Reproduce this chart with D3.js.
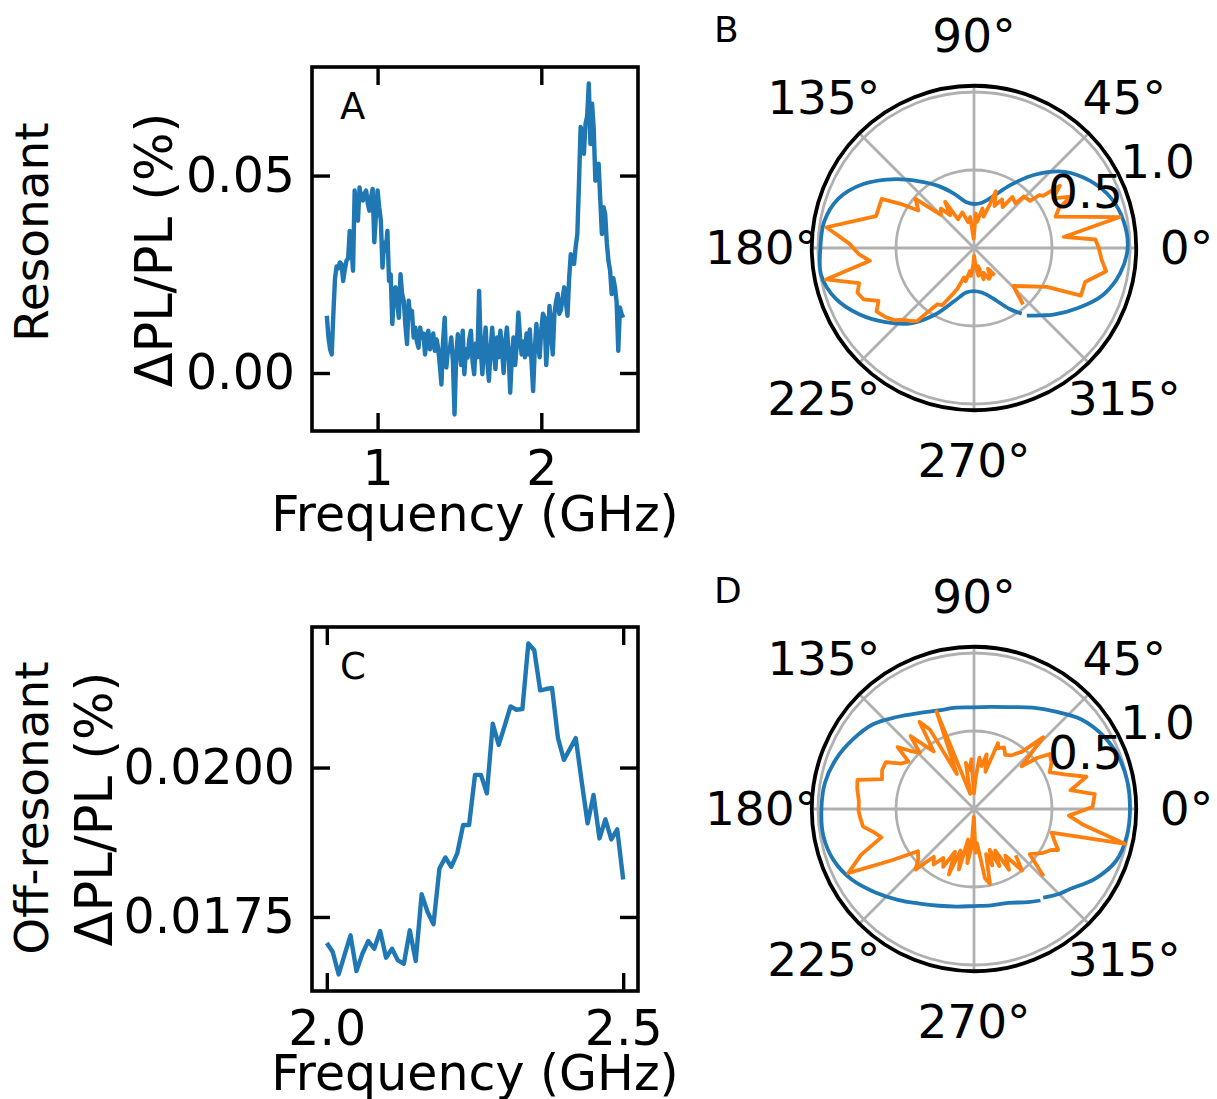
<!DOCTYPE html>
<html>
<head>
<meta charset="utf-8">
<title>Resonant / off-resonant</title>
<script src="https://d3js.org/d3.v7.min.js"></script>
<style>
  body { margin: 0; background: #fff; }
  text { font-family: "DejaVu Sans", sans-serif; fill: #000; }
</style>
</head>
<body>
<div id="fig"></div>
<script>
// ---- data ----
// panel A: resonant spectrum (frequency in GHz, dPL/PL in %)
const freqA = d3.range(69, 251).map(i => i / 100);
const dplA = [
  .0145,.0090,.0060,.0047,.0150,.0240,.0270,.0265,.0280,.0276,
  .0233,.0262,.0284,.0290,.0360,.0320,.0259,.0462,.0410,.0386,
  .0470,.0440,.0437,.0455,.0462,.0430,.0411,.0445,.0466,.0331,
  .0400,.0462,.0420,.0386,.0267,.0330,.0310,.0360,.0233,.0250,
  .0124,.0200,.0217,.0180,.0140,.0250,.0200,.0183,.0120,.0073,
  .0183,.0140,.0157,.0090,.0115,.0080,.0064,.0115,.0090,.0100,
  .0047,.0095,.0107,.0060,.0073,.0100,.0056,.0085,.0064,.0020,
  -.0029,.0080,.0140,.0014,.0060,.0056,.0090,.0030,-.0105,.0040,
  .0098,.0060,.0020,.0107,-.0003,.0060,.0039,.0085,.0107,.0030,
  -.0003,.0075,.0040,.0208,.0060,-.0003,.0070,.0115,.0030,-.0020,
  .0060,.0115,.0050,.0010,.0090,.0040,.0107,.0060,.0000,.0080,
  .0115,.0050,-.0050,.0040,.0090,.0020,.0070,.0153,.0090,.0047,
  .0080,.0040,.0100,.0047,.0110,.0030,-.0046,.0060,.0124,.0070,
  .0040,.0110,.0150,.0140,.0020,.0090,.0170,.0100,.0047,.0150,
  .0180,.0200,.0150,.0160,.0190,.0217,.0180,.0145,.0240,.0301,
  .0290,.0276,.0320,.0352,.0480,.0623,.0610,.0555,.0631,.0650,
  .0733,.0580,.0682,.0620,.0487,.0520,.0530,.0440,.0352,.0420,
  .0403,.0330,.0284,.0260,.0200,.0240,.0217,.0180,.0056,.0166,
  .0150,.0140
];
// panel C: off-resonant spectrum
const freqC = d3.range(200, 251).map(i => i / 100);
const dplC = [
  .017064,.016913,.016538,.016868,.017192,.016594,.016885,.017097,.016969,.017265,
  .016818,.016969,.016773,.016717,.017276,.016762,.017880,.017584,.017377,.018311,
  .018496,.018339,.018563,.019038,.019038,.019877,.019877,.019569,.020733,.020380,
  .020699,.021023,.020968,.020979,.022075,.021963,.021292,.021314,.021331,.020492,
  .020129,.020308,.020492,.019765,.019066,.019541,.018814,.019133,.018798,.018965,
  .018126
];
const xTicksA = [1, 2], yTicksA = [0, 0.05];
const xTicksC = [2.0, 2.5], yTicksC = [0.0175, 0.0200];

// polar panels: angle in degrees, normalised signal
const fitAng = [-52,-45,-40,-30,-20,-10,0,10,20,30,40,50,60,70,80,90,100,110,120,130,
  140,150,160,170,180,190,200,210,220,230,240,250,260,270,280,290,300,306];
const fitB = [.55,.61,.665,.77,.88,.95,.985,.975,.935,.86,.76,.615,.465,.35,.295,.282,.30,.37,.46,.56,
  .685,.82,.925,.975,.985,.995,.945,.85,.74,.63,.49,.36,.29,.276,.29,.34,.45,.52];
const fitD = [.72,.77,.80,.895,.97,.995,1.0,.999,.985,.95,.895,.815,.75,.695,.665,.652,.66,.672,.71,.77,
  .845,.895,.94,.97,.978,.981,.958,.905,.83,.76,.70,.66,.635,.622,.628,.64,.69,.725];

const measAngB = [-49,-44,-28,-24,-17,-10,-5,0,4,7,12,21,25,28,32,36,37,39,40,46,47,53,55,60,64,69,70,73,78,83,
  87,92,97,103,108,115,119,122,126,130,135,140,146,149,152,162,172,178,183,187,192,197,201,205,209,213,218,222,226,229,
  232,235,237,241,245,248,251,256,260,264,268,271,275,279,283,287,291,296,300,304,307];
const measB = [.48,.35,.53,.75,.745,.86,.82,.80,.78,.58,.955,.56,.60,.70,.60,.68,.555,.54,.47,.46,.39,.41,.32,.36,.30,.39,.30,.21,.26,.17,
  .22,.06,.20,.17,.24,.22,.21,.35,.26,.33,.30,.49,.43,.55,.67,.66,.955,.80,.74,.672,.97,.77,.80,.78,.70,.745,.72,.69,.64,.62,
  .595,.48,.43,.42,.33,.28,.20,.22,.15,.18,.10,.05,.12,.18,.12,.21,.17,.22,.21,.16,.22];

const measAngD = [-44,-39,-33,-28,-26,-21,-17,-13,-8,-4,1,7,11,16,21,26,31,36,39,42,46,50,55,60,64,68,70,73,77,80,
  84,87,90,93,96,100,104,111,116,119,122,125,128,131,134,138,141,144,148,152,157,162,166,170,176,181,185,189,193,197,
  202,207,212,217,222,226,230,234,238,242,246,249,252,256,259,263,266,269,272,275,279,282,285,288,291,294,297,300,304,308,312];
const measD = [.62,.46,.52,.56,.60,.55,.52,.995,.70,.61,.76,.78,.63,.75,.62,.54,.58,.60,.52,.41,.64,.48,.42,.40,.44,.42,.45,.25,.36,.28,
  .33,.20,.10,.32,.25,.30,.10,.67,.25,.58,.66,.45,.52,.62,.50,.56,.63,.52,.55,.64,.64,.62,.77,.76,.74,.74,.73,.72,.66,.62,
  .78,.905,.62,.45,.48,.54,.40,.44,.37,.42,.30,.45,.28,.40,.20,.35,.25,.05,.28,.22,.45,.49,.30,.38,.28,.40,.30,.45,.36,.50,.40];
const angTicks = [0, 45, 90, 135, 180, 225, 270, 315];
const rTicks = [0.5, 1.0];

// ---- figure ----
const W = 1217, H = 1099;
const FS = 49;            // tick / axis label font size
const PFS = 47;           // polar label font size
const blue = "#1f77b4", orange = "#ff7f0e";

const svg = d3.select("#fig").append("svg")
  .attr("width", W).attr("height", H);
svg.append("rect").attr("width", W).attr("height", H).attr("fill", "#fff");

// matplotlib style 5% margins
function padded(vals) {
  const [lo, hi] = d3.extent(vals);
  const m = (hi - lo) * 0.05;
  return [lo - m, hi + m];
}

function linePanel(box, xs, ys, xTicks, yTicks, xFmt, yFmt, letter) {
  const x = d3.scaleLinear().domain(padded(xs)).range([box.left, box.right]);
  const y = d3.scaleLinear().domain(padded(ys)).range([box.bottom, box.top]);
  const g = svg.append("g");

  const tick = 18;
  const styleAxis = sel => {
    sel.select(".domain").remove();
    sel.selectAll(".tick line").attr("stroke", "#000").attr("stroke-width", 3.4);
    sel.selectAll(".tick text").style("font-size", FS + "px").attr("fill", "#000");
  };
  g.append("g").attr("transform", `translate(0,${box.bottom})`)
    .call(d3.axisBottom(x).tickValues(xTicks).tickFormat(xFmt).tickSizeInner(-tick).tickSizeOuter(0).tickPadding(19))
    .call(styleAxis);
  g.append("g").attr("transform", `translate(0,${box.top})`)
    .call(d3.axisTop(x).tickValues(xTicks).tickFormat(() => "").tickSizeInner(-tick).tickSizeOuter(0))
    .call(styleAxis);
  g.append("g").attr("transform", `translate(${box.left},0)`)
    .call(d3.axisLeft(y).tickValues(yTicks).tickFormat(yFmt).tickSizeInner(-tick).tickSizeOuter(0).tickPadding(17))
    .call(styleAxis);
  g.append("g").attr("transform", `translate(${box.right},0)`)
    .call(d3.axisRight(y).tickValues(yTicks).tickFormat(() => "").tickSizeInner(-tick).tickSizeOuter(0))
    .call(styleAxis);

  g.append("path")
    .datum(d3.zip(xs, ys))
    .attr("fill", "none")
    .attr("stroke", blue)
    .attr("stroke-width", 4.4)
    .attr("stroke-linejoin", "round")
    .attr("d", d3.line().x(d => x(d[0])).y(d => y(d[1])));

  g.append("rect")
    .attr("x", box.left).attr("y", box.top)
    .attr("width", box.right - box.left).attr("height", box.bottom - box.top)
    .attr("fill", "none").attr("stroke", "#000").attr("stroke-width", 3.6);

  g.append("text").attr("x", box.left + 28).attr("y", box.top + 52)
    .style("font-size", "37px").text(letter);

  g.append("text")
    .attr("x", (box.left + box.right) / 2).attr("y", box.labelY)
    .attr("text-anchor", "middle").style("font-size", FS + "px")
    .text("Frequency (GHz)");
}

function vLabel(x, y, txt, fs) {
  svg.append("text")
    .attr("transform", `translate(${x},${y}) rotate(-90)`)
    .attr("text-anchor", "middle").attr("dy", "0.35em")
    .style("font-size", fs + "px").text(txt);
}

linePanel({ left: 312, right: 638, top: 67, bottom: 431, labelY: 531 },
  freqA, dplA, xTicksA, yTicksA, d3.format("d"), d3.format(".2f"), "A");
linePanel({ left: 312, right: 638, top: 627, bottom: 991, labelY: 1090 },
  freqC, dplC, xTicksC, yTicksC, d3.format(".1f"), d3.format(".4f"), "C");

vLabel(154, 250, "ΔPL/PL (%)", 51);
vLabel(32, 232, "Resonant", 47);
vLabel(94, 809, "ΔPL/PL (%)", 51);
vLabel(32, 808, "Off-resonant", 47);

function polarPanel(cx, cy, letter, fitR, measAng, measR) {
  const rMax = 1.04;
  const r = d3.scaleLinear().domain([0, 1]).range([0, 156]);
  const rad = d => d * Math.PI / 180;
  const g = svg.append("g").attr("transform", `translate(${cx},${cy})`);

  // grid
  g.selectAll(".ring").data(rTicks).join("circle")
    .attr("r", d => r(d)).attr("fill", "none")
    .attr("stroke", "#b0b0b0").attr("stroke-width", 2.8);
  g.selectAll(".spoke").data(angTicks).join("line")
    .attr("x1", 0).attr("y1", 0)
    .attr("x2", d => r(rMax) * Math.cos(rad(d)))
    .attr("y2", d => -r(rMax) * Math.sin(rad(d)))
    .attr("stroke", "#b0b0b0").attr("stroke-width", 2.8);

  const radial = d3.lineRadial()
    .angle(d => rad(90 - d[0]))
    .radius(d => r(d[1]));

  g.append("path")
    .attr("fill", "none").attr("stroke", blue).attr("stroke-width", 3.8)
    .attr("d", radial.curve(d3.curveCatmullRom)(d3.zip(fitAng, fitR)));
  g.append("path")
    .attr("fill", "none").attr("stroke", orange).attr("stroke-width", 3.8)
    .attr("stroke-linejoin", "round")
    .attr("d", radial.curve(d3.curveLinear)(d3.zip(measAng, measR)));

  // outer frame
  g.append("circle").attr("r", r(rMax)).attr("fill", "none")
    .attr("stroke", "#000").attr("stroke-width", 3.8);

  // angle labels
  g.selectAll(".alab").data(angTicks).join("text")
    .attr("x", d => 212.5 * Math.cos(rad(d)))
    .attr("y", d => -212.5 * Math.sin(rad(d)))
    .attr("dy", "0.35em").attr("text-anchor", "middle")
    .style("font-size", PFS + "px")
    .text(d => d + "°");

  // radial labels at 22.5 deg
  g.selectAll(".rlab").data(rTicks).join("text")
    .attr("x", d => r(d) * Math.cos(rad(22.5)) + 2)
    .attr("y", d => -r(d) * Math.sin(rad(22.5)) - 10)
    .style("font-size", PFS + "px")
    .text(d => d3.format(".1f")(d));

  svg.append("text").attr("x", cx - 260).attr("y", cy - 206)
    .style("font-size", "36px").text(letter);
}

polarPanel(974, 248, "B", fitB, measAngB, measB);
polarPanel(974, 809, "D", fitD, measAngD, measD);
</script>
</body>
</html>
